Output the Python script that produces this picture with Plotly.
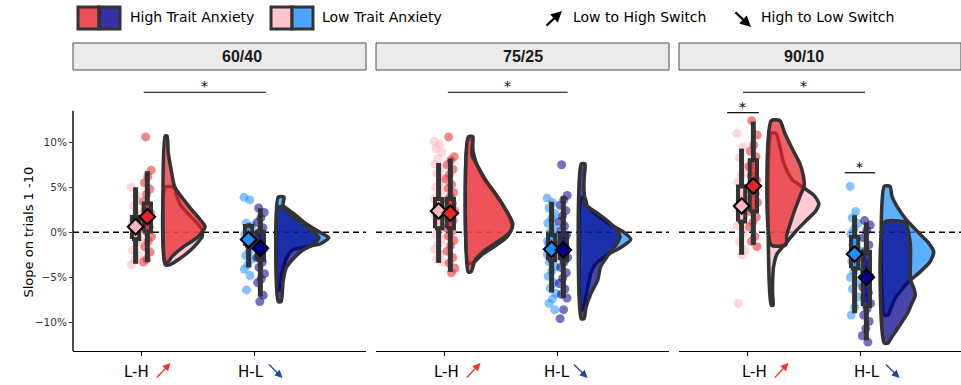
import plotly.graph_objects as go

W, H = 961, 385

PANELS = ["60/40", "75/25", "90/10"]
SWITCHES = ["L-H", "H-L"]          # plotted at x = 1 and x = 2
GROUPS = ["Low", "High"]           # trait anxiety groups
Y_TICKS = [-10, -5, 0, 5, 10]
Y_TICK_TEXT = ["\u221210%", "\u22125%", "0%", "5%", "10%"]

# ---- individual slopes on trials 1-10 (%) ----
pts_6040_lh_low = [5.0, 4.1, 2.9, 2.0, 1.4, 0.9, 0.3, -0.2, -0.8, -1.2, -2.0, -2.6, -3.1, -3.6, 0.6, 1.7]
pts_6040_lh_high = [10.6, 6.9, 6.2, 5.5, 4.8, 4.2, 3.4, 3.0, 2.5, 2.1, 1.6, 1.1, 0.6, 0.1, -0.5, -1.0,
                    -1.6, -2.2, -3.0, -3.3]
pts_6040_hl_low = [3.9, 3.6, 1.0, 0.7, 0.3, -0.2, -0.7, -1.1, -1.6, -2.1, -2.6, -3.0, -3.6, -4.1, -4.8,
                   -6.4, -1.4]
pts_6040_hl_high = [2.7, 2.2, 1.6, 1.1, 0.5, 0.0, -0.4, -0.9, -1.3, -1.8, -2.3, -2.8, -3.3, -3.9, -4.6,
                    -5.2, -5.6, -7.0, -7.7, -1.5]

pts_7525_lh_low = [10.1, 9.8, 9.3, 8.9, 8.2, 7.6, 7.1, 6.5, 6.0, 5.4, 5.0, 4.6, 4.1, 3.7, 3.3, 2.9, 2.5,
                   2.1, 1.8, 1.4, 1.0, 0.6, 0.2, -0.3, -0.8, -1.3, -1.9, -2.4, -3.0, -3.3, 3.0, 2.2]
pts_7525_lh_high = [10.6, 8.4, 8.0, 7.5, 7.0, 6.4, 5.9, 5.3, 4.9, 4.4, 4.0, 3.6, 3.2, 2.8, 2.4, 2.0, 1.7,
                    1.3, 0.9, 0.5, 0.1, -0.4, -0.9, -1.5, -2.1, -2.8, -3.4, -4.0, -4.5, 2.6]
pts_7525_hl_low = [3.8, 3.3, 2.7, 2.1, 1.5, 1.0, 0.5, 0.0, -0.4, -0.9, -1.3, -1.7, -2.1, -2.5, -2.9, -3.3,
                   -3.8, -4.3, -4.9, -5.6, -6.2, -6.8, -7.4, -7.9, -8.6, -2.0, -1.0]
pts_7525_hl_high = [7.5, 4.1, 3.6, 3.0, 2.4, 1.8, 1.2, 0.7, 0.2, -0.3, -0.8, -1.3, -1.8, -2.3, -2.8, -3.3,
                    -3.9, -4.5, -5.1, -5.7, -6.3, -6.9, -7.3, -8.6, -9.6, -1.9]

pts_9010_lh_low = [11.0, 9.5, 8.3, 7.2, 6.4, 5.6, 4.9, 4.2, 3.6, 3.0, 2.5, 1.9, 1.3, 0.7, -0.1, -1.0,
                   -2.0, -2.5, -7.9, 2.8]
pts_9010_lh_high = [12.4, 10.8, 9.7, 9.0, 8.4, 7.8, 7.3, 6.8, 6.3, 5.8, 5.3, 4.8, 4.3, 3.8, 3.3, 2.8,
                    2.3, 1.7, 1.1, 0.6, -0.5, -1.0, -1.6, 5.0]
pts_9010_hl_low = [5.1, 2.3, 1.6, 1.0, 0.4, -0.2, -0.8, -1.4, -2.0, -2.6, -3.2, -3.8, -4.4, -5.0, -5.6,
                   -6.3, -7.2, -8.3, -9.2, -2.3]
pts_9010_hl_high = [1.3, 0.8, 0.2, -0.6, -1.4, -2.1, -2.8, -3.5, -4.2, -4.9, -5.5, -6.1, -6.7, -7.3,
                    -7.9, -8.5, -9.2, -9.9, -10.7, -11.5, -12.2, -5.0]

POINTS = [pts_6040_lh_low, pts_6040_lh_high, pts_6040_hl_low, pts_6040_hl_high,
          pts_7525_lh_low, pts_7525_lh_high, pts_7525_hl_low, pts_7525_hl_high,
          pts_9010_lh_low, pts_9010_lh_high, pts_9010_hl_low, pts_9010_hl_high]

# ---- box statistics, same order (block, switch, group) ----
BOX_LO = [-3.5, -3.3, -3.9, -7.15, -3.4, -4.4, -6.7, -7.3, -2.5, -1.4, -9.0, -12.0]
BOX_Q1 = [-0.75, 0.1, -1.5, -3.1, 0.45, 0.45, -3.1, -3.1, 1.2, 2.3, -4.0, -8.2]
BOX_MED = [0.5, 1.5, -0.7, -1.6, 2.2, 2.0, -1.8, -1.9, 2.9, 5.0, -2.3, -5.0]
BOX_Q3 = [1.7, 3.2, 0.7, 0.05, 3.7, 3.7, -0.3, -0.3, 5.1, 8.0, -0.5, -2.15]
BOX_HI = [5.0, 6.8, 1.0, 2.67, 7.7, 8.2, 3.4, 4.0, 9.3, 12.3, 1.9, 1.1]
MEANS = [0.62, 1.73, -0.8, -1.78, 2.37, 2.11, -1.89, -1.97, 2.92, 5.14, -2.41, -5.0]

# ---- half-violin density profiles (y in %, relative density) ----
vy_6040_lh_low = [5.0, 4.0, 3.0, 2.0, 1.0, 0.3, -0.5, -1.2, -2.0, -3.0, -3.6]
vd_6040_lh_low = [9, 12, 16, 24, 33, 38, 38, 33, 26, 14, 5]
vy_6040_lh_high = [10.7, 9.0, 7.0, 5.0, 2.8, 1.4, 0.6, -0.5, -1.6, -2.7, -3.3]
vd_6040_lh_high = [2, 3, 6, 10, 25, 36, 41, 34, 19, 7, 3]
vy_6040_hl_low = [3.9, 3.0, 2.0, 1.0, 0.0, -0.6, -1.3, -2.0, -3.0, -4.0, -5.0, -6.4]
vd_6040_hl_low = [6, 5, 17, 28, 43, 52, 43, 14, 8, 5, 3, 2]
vy_6040_hl_high = [2.8, 2.0, 1.0, 0.0, -0.6, -1.3, -2.0, -3.0, -4.0, -5.5, -7.7]
vd_6040_hl_high = [5, 12, 25, 37, 42, 37, 25, 15, 8, 5, 3]

vy_7525_lh_low = [10.3, 9.0, 7.5, 6.0, 4.5, 3.0, 1.5, 0.5, -0.5, -1.5, -2.5, -3.4]
vd_7525_lh_low = [4, 5, 9, 16, 26, 36, 43, 45, 40, 28, 14, 5]
vy_7525_lh_high = [10.6, 9.5, 8.5, 7.3, 5.8, 4.3, 2.8, 1.7, 0.9, 0.0, -0.85, -2.0, -3.1, -4.4]
vd_7525_lh_high = [5, 4, 4, 10, 18, 28, 37, 43, 46, 43, 33, 17, 7, 3]
vy_7525_hl_low = [3.8, 3.0, 2.0, 1.0, 0.0, -0.8, -1.6, -2.5, -3.5, -4.5, -6.0, -7.5, -8.6]
vd_7525_hl_low = [4, 6, 15, 28, 44, 51, 42, 27, 15, 10, 7, 4, 2]
vy_7525_hl_high = [7.6, 6.0, 4.5, 3.0, 2.1, 1.0, 0.0, -0.5, -1.2, -2.5, -3.8, -5.3, -6.8, -8.3, -9.6]
vd_7525_hl_high = [4, 3, 3, 5, 17, 30, 38, 40, 37, 28, 20, 17, 10, 5, 3]

vy_9010_lh_low = [11.0, 9.5, 8.0, 6.9, 5.8, 5.2, 4.1, 3.2, 2.4, 1.3, 0.2, -1.1, -2.4, -3.8, -5.3, -7.0, -8.1]
vd_9010_lh_low = [5, 9, 12, 16, 22, 30, 44, 49, 46, 36, 26, 16, 6, 2.5, 1.5, 1.5, 2]
vy_9010_lh_high = [12.4, 11.0, 9.2, 7.5, 6.3, 5.2, 4.1, 2.7, 1.1, -0.3, -1.4]
vd_9010_lh_high = [9, 14, 22, 30, 33, 34, 30, 25, 20, 16, 15]
vy_9010_hl_low = [5.1, 4.0, 2.9, 1.5, 0.0, -1.1, -2.2, -3.3, -4.4, -5.5, -7.2, -8.4, -9.2]
vd_9010_hl_low = [6, 8, 13, 22, 35, 45, 51, 47, 37, 25, 12, 7, 4]
vy_9010_hl_high = [1.1, 0.0, -1.5, -3.3, -5.2, -6.4, -7.0, -8.0, -9.0, -10.5, -11.6, -12.3]
vd_9010_hl_high = [22, 25, 27, 27, 27, 31, 32, 28, 24, 15, 8, 4]

VIOLIN_Y = [vy_6040_lh_low, vy_6040_lh_high, vy_6040_hl_low, vy_6040_hl_high,
            vy_7525_lh_low, vy_7525_lh_high, vy_7525_hl_low, vy_7525_hl_high,
            vy_9010_lh_low, vy_9010_lh_high, vy_9010_hl_low, vy_9010_hl_high]
VIOLIN_D = [vd_6040_lh_low, vd_6040_lh_high, vd_6040_hl_low, vd_6040_hl_high,
            vd_7525_lh_low, vd_7525_lh_high, vd_7525_hl_low, vd_7525_hl_high,
            vd_9010_lh_low, vd_9010_lh_high, vd_9010_hl_low, vd_9010_hl_high]

# ---- styling ----
BASE_COL = {("L-H", "Low"): (255, 182, 193), ("L-H", "High"): (232, 38, 42),
            ("H-L", "Low"): (30, 144, 255), ("H-L", "High"): (0, 0, 139)}
OUTLINE = "#333333"
FONT = "DejaVu Sans"
DODGE = 0.052
BOX_W = 0.064
JIT = 0.04
V_BASE = 0.21
V_SCALE = 0.0086

# per-facet pixel offsets of the category labels and their arrows
LH_TEXT_DX = [-5, 2, 7]
LH_ARROW_DX = [29, 36, 41]
HL_TEXT_DX = [-3, 0, 7]
HL_ARROW_DX = [28, 30, 39]


def rgba(c, a):
    return "rgba(%d,%d,%d,%.2f)" % (c[0], c[1], c[2], a)


def hexc(c):
    return "#%02X%02X%02X" % c


# ---- layout geometry ----
PX_PER_UNIT = 113.0
PANEL_PX = [(73, 366), (376, 669), (679, 961)]
X_LEFT = 0.394
Y_RANGE = [-13.19, 17.81]
Y_DOM = [1 - 351 / H, 1 - 72 / H]

fig = go.Figure()

for p, panel in enumerate(PANELS):
    xa = "x" if p == 0 else "x%d" % (p + 1)
    ya = "y" if p == 0 else "y%d" % (p + 1)
    idx = lambda s, g: p * 4 + s * 2 + g

    # half violins (low first, high on top)
    for s, sw in enumerate(SWITCHES):
        base = (s + 1) + V_BASE
        for g, grp in enumerate(GROUPS):
            k = idx(s, g)
            ys, ds = VIOLIN_Y[k], VIOLIN_D[k]
            xs = [base] + [base + d * V_SCALE for d in ds] + [base, base]
            yy = [ys[0]] + list(ys) + [ys[-1], ys[0]]
            fig.add_trace(go.Scatter(
                x=xs, y=yy, mode="lines", fill="toself",
                fillcolor=rgba(BASE_COL[(sw, grp)], 0.72),
                line=dict(color=OUTLINE, width=3.5, shape="spline", smoothing=0.6),
                xaxis=xa, yaxis=ya, showlegend=False, hoverinfo="skip"))

    # jittered points
    for s, sw in enumerate(SWITCHES):
        for g, grp in enumerate(GROUPS):
            k = idx(s, g)
            centre = (s + 1) + (DODGE if g == 1 else -DODGE)
            vals = POINTS[k]
            offs = [JIT * (2 * ((i * 0.6180339887 + 0.31 * g) % 1.0) - 1) for i in range(len(vals))]
            fig.add_trace(go.Scatter(
                x=[centre + o for o in offs], y=vals, mode="markers",
                marker=dict(size=9, color=rgba(BASE_COL[(sw, grp)], 0.55), line=dict(width=0)),
                xaxis=xa, yaxis=ya, showlegend=False, hoverinfo="skip"))

    # boxplots: whiskers, then box with median
    for s, sw in enumerate(SWITCHES):
        for g, grp in enumerate(GROUPS):
            k = idx(s, g)
            c = (s + 1) + (DODGE if g == 1 else -DODGE)
            fig.add_trace(go.Scatter(
                x=[c, c, None, c, c], y=[BOX_LO[k], BOX_Q1[k], None, BOX_Q3[k], BOX_HI[k]],
                mode="lines", line=dict(color=OUTLINE, width=5),
                xaxis=xa, yaxis=ya, showlegend=False, hoverinfo="skip"))
            h = BOX_W / 2
            fig.add_trace(go.Scatter(
                x=[c - h, c + h, c + h, c - h, c - h], y=[BOX_Q1[k], BOX_Q1[k], BOX_Q3[k], BOX_Q3[k], BOX_Q1[k]],
                mode="lines", fill="toself", fillcolor=rgba(BASE_COL[(sw, grp)], 0.72),
                line=dict(color=OUTLINE, width=4),
                xaxis=xa, yaxis=ya, showlegend=False, hoverinfo="skip"))
            fig.add_trace(go.Scatter(
                x=[c - h, c + h], y=[BOX_MED[k], BOX_MED[k]], mode="lines",
                line=dict(color=OUTLINE, width=3),
                xaxis=xa, yaxis=ya, showlegend=False, hoverinfo="skip"))

    # group means
    for s, sw in enumerate(SWITCHES):
        for g, grp in enumerate(GROUPS):
            k = idx(s, g)
            c = (s + 1) + (DODGE if g == 1 else -DODGE)
            fig.add_trace(go.Scatter(
                x=[c], y=[MEANS[k]], mode="markers",
                marker=dict(symbol="diamond", size=12, color=hexc(BASE_COL[(sw, grp)]),
                            line=dict(color="black", width=2)),
                xaxis=xa, yaxis=ya, showlegend=False, hoverinfo="skip"))

# ---- axes ----
layout = dict(width=W, height=H, margin=dict(l=0, r=0, t=0, b=0),
              paper_bgcolor="white", plot_bgcolor="white",
              font=dict(family=FONT, color="black"))
for p in range(3):
    l, r = PANEL_PX[p]
    key = "xaxis" if p == 0 else "xaxis%d" % (p + 1)
    ykey = "yaxis" if p == 0 else "yaxis%d" % (p + 1)
    layout[key] = dict(domain=[l / W, r / W], range=[X_LEFT, X_LEFT + (r - l) / PX_PER_UNIT],
                       anchor="y" if p == 0 else "y%d" % (p + 1),
                       showgrid=False, zeroline=False, showline=True, linecolor="black", linewidth=1.4,
                       ticks="outside", ticklen=4, tickwidth=1.2, tickcolor="black",
                       tickvals=[1, 2], showticklabels=False)
    layout[ykey] = dict(domain=Y_DOM, range=Y_RANGE, anchor="x" if p == 0 else "x%d" % (p + 1),
                        showgrid=False, zeroline=False, showline=False,
                        tickvals=Y_TICKS, ticktext=Y_TICK_TEXT,
                        showticklabels=(p == 0), ticks="outside" if p == 0 else "",
                        ticklen=3, tickwidth=1.2, tickcolor="#333333",
                        tickfont=dict(family=FONT, size=10.5, color="#333333"))
fig.update_layout(**layout)

shapes, annotations = [], []

# y axis line on the first panel
shapes.append(dict(type="line", xref="paper", yref="y", x0=73 / W, x1=73 / W, y0=Y_RANGE[0], y1=13.5,
                   line=dict(color="black", width=1.4)))

for p, panel in enumerate(PANELS):
    xr = "x" if p == 0 else "x%d" % (p + 1)
    yr = "y" if p == 0 else "y%d" % (p + 1)
    l, r = PANEL_PX[p]
    # dashed reference at zero
    shapes.append(dict(type="line", xref=xr + " domain", yref=yr, x0=0, x1=1, y0=0, y1=0,
                       layer="below", line=dict(color="black", width=1.5, dash="6px,4px")))
    # facet strip
    shapes.append(dict(type="rect", xref="paper", yref="paper", x0=l / W, x1=min(r, W + 5) / W,
                       y0=1 - 70 / H, y1=1 - 43 / H, fillcolor="#EBEBEB",
                       line=dict(color="#4D4D4D", width=1)))
    annotations.append(dict(xref="paper", yref="paper", x=(l + 293 / 2) / W, y=1 - 56.5 / H,
                            yanchor="middle", text="<b>%s</b>" % panel, showarrow=False,
                            font=dict(family="Liberation Sans", size=16, color="#1A1A1A")))
    # category labels with direction arrows
    annotations.append(dict(xref=xr, yref="paper", x=1 + LH_TEXT_DX[p] / PX_PER_UNIT, y=1 - 372 / H,
                            yanchor="middle", text="L-H", showarrow=False,
                            font=dict(family=FONT, size=15, color="black")))
    annotations.append(dict(xref=xr, yref="paper", x=1 + LH_ARROW_DX[p] / PX_PER_UNIT, y=1 - 363 / H,
                            text="", showarrow=True, ax=-15, ay=16, arrowhead=2, arrowsize=1.2,
                            arrowwidth=1.3, arrowcolor="#EE3333"))
    annotations.append(dict(xref=xr, yref="paper", x=2 + HL_TEXT_DX[p] / PX_PER_UNIT, y=1 - 372 / H,
                            yanchor="middle", text="H-L", showarrow=False,
                            font=dict(family=FONT, size=15, color="black")))
    annotations.append(dict(xref=xr, yref="paper", x=2 + HL_ARROW_DX[p] / PX_PER_UNIT, y=1 - 378 / H,
                            text="", showarrow=True, ax=-15, ay=-15, arrowhead=2, arrowsize=1.2,
                            arrowwidth=1.3, arrowcolor="#2344A8"))

# significance brackets: (panel, x0, x1, y)
SIG = [(0, 1.02, 2.10, 15.56), (1, 1.03, 2.09, 15.56), (2, 0.96, 2.04, 15.56),
       (2, 0.82, 1.10, 13.29), (2, 1.86, 2.13, 6.62)]
for p, x0, x1, yv in SIG:
    xr = "x" if p == 0 else "x%d" % (p + 1)
    yr = "y" if p == 0 else "y%d" % (p + 1)
    shapes.append(dict(type="line", xref=xr, yref=yr, x0=x0, x1=x1, y0=yv, y1=yv,
                       line=dict(color="black", width=1.2)))
    annotations.append(dict(xref=xr, yref=yr, x=(x0 + x1) / 2, y=yv, text="*", showarrow=False,
                            yanchor="bottom", yshift=-4, font=dict(family=FONT, size=14, color="black")))

# y axis title
annotations.append(dict(xref="paper", yref="paper", x=18 / W, y=1 - 232 / H, text="Slope on trials 1 -10",
                        textangle=-90, showarrow=False, yanchor="middle",
                        font=dict(family=FONT, size=13, color="black")))

# top legend: group swatches
LEG = [(78, "High", "High Trait Anxiety", 128), (271, "Low", "Low Trait Anxiety", 320)]
for x0, grp, label, tx in LEG:
    for j, sw in enumerate(SWITCHES):
        shapes.append(dict(type="rect", xref="paper", yref="paper",
                           x0=(x0 + 21 * j) / W, x1=(x0 + 21 * (j + 1)) / W, y0=1 - 29 / H, y1=1 - 7 / H,
                           fillcolor=rgba(BASE_COL[(sw, grp)], 0.8), line=dict(color="#333333", width=3)))
    annotations.append(dict(xref="paper", yref="paper", x=tx / W, y=1 - 17 / H, text=label,
                            xanchor="left", yanchor="middle", showarrow=False,
                            font=dict(family=FONT, size=14, color="black")))

# top legend: switch direction arrows
annotations.append(dict(xref="paper", yref="paper", x=562 / W, y=1 - 11 / H, text="", showarrow=True,
                        ax=-17, ay=16, arrowhead=2, arrowsize=1, arrowwidth=2.2, arrowcolor="black"))
annotations.append(dict(xref="paper", yref="paper", x=571 / W, y=1 - 17 / H, text="Low to High Switch",
                        xanchor="left", yanchor="middle", showarrow=False,
                        font=dict(family=FONT, size=14, color="black")))
annotations.append(dict(xref="paper", yref="paper", x=751 / W, y=1 - 27 / H, text="", showarrow=True,
                        ax=-17, ay=-16, arrowhead=2, arrowsize=1, arrowwidth=2.2, arrowcolor="black"))
annotations.append(dict(xref="paper", yref="paper", x=759 / W, y=1 - 17 / H, text="High to Low Switch",
                        xanchor="left", yanchor="middle", showarrow=False,
                        font=dict(family=FONT, size=14, color="black")))

fig.update_layout(shapes=shapes, annotations=annotations)
fig.write_html("out.html")
